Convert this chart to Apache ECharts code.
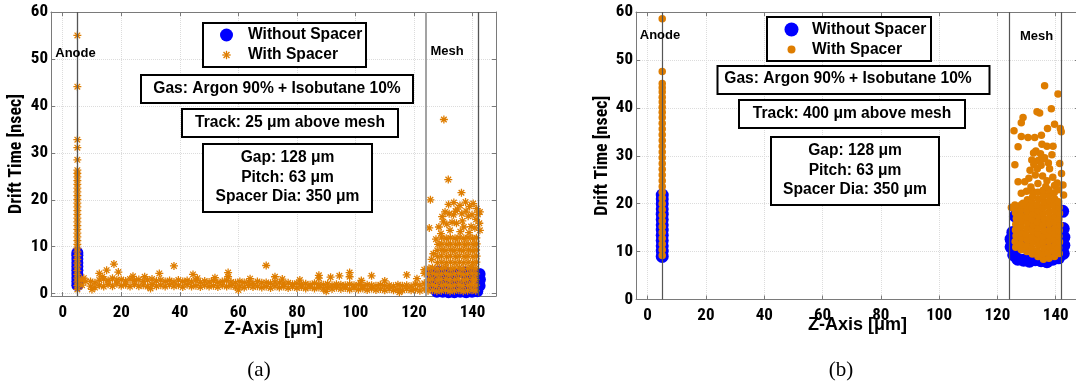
<!DOCTYPE html>
<html><head><meta charset="utf-8">
<script src="https://cdn.jsdelivr.net/npm/echarts@6/dist/echarts.min.js"></script>
<style>html,body{margin:0;padding:0;background:#fff}#c{width:1076px;height:383px}</style>
</head><body><div id="c"></div>
<script>
// ---------- data ----------
const seriesNames = ['Without Spacer', 'With Spacer'];
const xTickLabels = [0, 20, 40, 60, 80, 100, 120, 140];
const yTickLabels = [0, 10, 20, 30, 40, 50, 60];
const electrodeX = [5, 124, 142];      // Anode, Mesh (two lines)
const gasText = 'Gas: Argon 90% + Isobutane 10%';
const trackTextA = 'Track: 25 \u03bcm above mesh';
const trackTextB = 'Track: 400 \u03bcm above mesh';
const paramLines = ['Gap: 128 \u03bcm', 'Pitch: 63 \u03bcm', 'Spacer Dia: 350 \u03bcm'];
const captions = ['(a)', '(b)'];

const aWithout = [
  [5,1.8],[5,2.6],[5,3.4],[5,4.2],[5,5.0],[5,5.8],[5,6.6],[5,7.4],[5,8.2],[5,8.7],
  [125.8,4.3],[126.2,3.0],[126.6,1.7],[127.8,0.4],[129.8,0.4],[131.8,0.3],[133.8,0.3],[135.8,0.4],
  [137.8,0.3],[139.8,0.4],[141.6,0.5],[142.4,1.7],[142.5,3.0],[142.4,4.2],[128.5,4.7],[131,4.4],
  [134,4.2],[137,4.5],[140,4.4],[130,2.5],[134,2.2],[138,2.6]
];
const aWith = [
  [5,0.9],[5,1.7],[5,2.5],[5,3.3],[5,4.1],[5,4.9],[5,5.7],[5,6.5],[5,7.3],[5,8.1],
  [5,8.9],[5,9.7],[5,10.5],[5,11.3],[5,12.1],[5,12.9],[5,13.7],[5,14.5],[5,15.3],
  [5,16.1],[5,16.9],[5,17.7],[5,18.5],[5,19.3],[5,20.1],[5,20.9],[5,21.7],[5,22.5],
  [5,23.3],[5,24.1],[5,24.9],[5,25.6],[5,26.3],[5,28.5],[5,31.1],[5,32.8],[5,44.1],
  [5,55.0],[6.3,2.9],[7.2,3.3],[7.9,2.6],[6.6,1.8],
  [9.5,1.6],[9.5,2.6],[11,1.3],[11,2.3],[12.5,1.8],[12.5,2.9],[14,1.5],[14,3.1],[15.5,2.0],[15.5,2.8],
  [17,1.6],[17,3.3],[18.5,2.1],[18.5,2.9],[20,1.7],[20,3.0],[21.5,1.9],[21.5,2.7],[23,1.5],[23,3.1],
  [24.5,2.0],[24.5,2.8],[26,1.6],[26,3.0],[27.5,1.8],[27.5,2.6],[29,1.5],[29,2.9],[30.5,2.0],[30.5,3.1],
  [32,1.6],[32,2.7],[33.5,1.8],[33.5,2.9],[35,1.5],[35,2.6],[36.5,1.9],[36.5,2.8],[38,1.6],[38,2.5],
  [39.5,1.8],[39.5,2.9],[41,1.4],[41,2.6],[42.5,1.9],[42.5,2.8],[44,1.5],[44,2.5],[45.5,1.7],[45.5,2.9],
  [47,1.4],[47,2.4],[48.5,1.8],[48.5,2.7],[50,1.5],[50,2.5],[51.5,1.7],[51.5,2.8],[53,1.4],[53,2.4],
  [54.5,1.8],[54.5,2.6],[56,1.5],[56,2.8],[57.5,1.7],[57.5,2.5],[59,1.4],[59,2.3],[60.5,1.6],[60.5,2.6],
  [62,1.3],[62,2.4],[63.5,1.7],[63.5,2.5],[65,1.4],[65,2.2],[66.5,1.6],[66.5,2.6],[68,1.3],[68,2.3],
  [69.5,1.5],[69.5,2.4],[71,1.2],[71,2.2],[72.5,1.6],[72.5,2.5],[74,1.3],[74,2.3],[75.5,1.5],[75.5,2.1],
  [77,1.2],[77,2.3],[78.5,1.5],[78.5,2.0],[80,1.2],[80,2.2],[81.5,1.4],[81.5,2.0],[83,1.1],[83,2.1],
  [84.5,1.4],[84.5,1.9],[86,1.1],[86,2.2],[87.5,1.3],[87.5,2.0],[89,1.0],[89,1.9],[90.5,1.3],[90.5,2.1],
  [92,1.0],[92,1.8],[93.5,1.3],[93.5,2.0],[95,1.0],[95,1.9],[96.5,1.2],[96.5,1.8],[98,0.9],[98,2.0],
  [99.5,1.2],[99.5,1.8],[101,0.9],[101,1.9],[102.5,1.1],[102.5,1.7],[104,0.8],[104,1.9],[105.5,1.1],[105.5,1.8],
  [107,0.8],[107,1.7],[108.5,1.0],[108.5,1.9],[110,0.7],[110,1.7],[111.5,1.0],[111.5,1.8],[113,0.7],[113,1.6],
  [114.5,0.9],[114.5,1.9],[116,0.7],[116,1.7],[117.5,1.0],[117.5,1.8],[119,0.7],[119,1.6],[120.5,0.9],[120.5,2.0],
  [122,0.6],[122,1.8],[123.5,1.0],[123.5,2.2],
  [12.5,4.3],[15,5.0],[17.5,6.3],[19,4.6],[33,4.3],[38,5.9],[44.5,4.1],[56.5,4.5],[56.5,3.6],[69.5,6.0],
  [72.5,3.6],[87.5,3.9],[87.5,3.3],[91.5,3.5],[94.5,3.8],[98,4.5],[98,3.6],[105.5,3.8],[117.5,4.0],
  [123.5,5.1],[123.5,4.3],[13.5,3.6],[24,3.7],[28,3.6],[46,3.3],[52,3.4],[64,3.2],[75,3.1],[81,2.9],
  [102,2.8],[110,2.7],[121,3.2],[10,0.9],[30,1.1],[60,0.8],[90,0.5],[115,0.3],
  [124.8,0.6],[124.8,1.8],[125.0,3.0],[124.9,4.2],[125.1,5.4],
  [126.3,0.7],[126.4,1.9],[126.2,3.1],[126.4,4.3],[126.3,5.5],
  [127.8,0.5],[127.7,1.7],[127.9,2.9],[127.8,4.1],[127.9,5.3],
  [129.3,0.6],[129.4,1.8],[129.2,3.0],[129.3,4.2],[129.4,5.4],
  [130.8,0.7],[130.7,1.9],[130.9,3.1],[130.8,4.3],[130.7,5.5],
  [132.3,0.5],[132.4,1.7],[132.2,2.9],[132.3,4.1],[132.4,5.3],
  [133.8,0.6],[133.7,1.8],[133.9,3.0],[133.8,4.2],[133.7,5.4],
  [135.3,0.7],[135.4,1.9],[135.2,3.1],[135.3,4.3],[135.4,5.5],
  [136.8,0.5],[136.7,1.7],[136.9,2.9],[136.8,4.1],[136.7,5.3],
  [138.3,0.6],[138.4,1.8],[138.2,3.0],[138.3,4.2],[138.4,5.4],
  [139.8,0.7],[139.7,1.9],[139.9,3.1],[139.8,4.3],[139.7,5.5],
  [141.1,0.6],[141.2,1.8],[141.0,3.0],[141.2,4.2],[141.1,5.4],
  [128,6.6],[128.1,7.9],[127.9,9.2],[128.2,10.5],[127.5,11.6],
  [129.5,6.7],[129.4,8.0],[129.6,9.3],[129.5,10.6],[129.4,11.9],
  [131,6.6],[131.1,7.9],[130.9,9.2],[131.2,10.5],[131,11.8],
  [132.5,6.7],[132.4,8.0],[132.6,9.3],[132.5,10.6],[132.4,11.9],
  [134,6.6],[134.1,7.9],[133.9,9.2],[134.2,10.5],[134,11.8],
  [135.5,6.7],[135.4,8.0],[135.6,9.3],[135.5,10.6],[135.4,11.9],
  [137,6.6],[137.1,7.9],[136.9,9.2],[137.2,10.5],[137,11.8],
  [138.5,6.7],[138.4,8.0],[138.6,9.3],[138.5,10.6],[138.4,11.9],
  [140,6.6],[140.1,7.9],[139.9,9.2],[140.2,10.5],[140,11.8],
  [141.3,6.7],[141.4,8.0],[141.2,9.3],[141.4,10.6],[141.3,11.9],
  [126.6,8.5],[126,7.3],
  [130.2,37.1],[131.7,24.3],[136.2,21.5],[125.6,20.0],[125.2,14.0],[133.6,19.4],[135.7,18.8],[140.2,19.2],
  [141.4,18.1],[142.5,17.4],[130.6,17.4],[129.6,16.4],[130,15.3],[136.3,17.0],[132.3,13.5],[142.5,13.5],
  [138.5,16.5],[139.5,14.3],[134.5,15.0],[137,14.2],[131.2,14.8],[133.5,16.8],[141.2,15.8],[139.0,18.6],
  [134.8,18.0],[131.8,19.0],[137.6,19.5],[141.8,16.9],[129.2,12.8],[135.8,13.2],[138.8,13.0],[140.8,14.0],
  [133.0,15.2],[136.5,15.5],[139.8,16.8],[142.3,15.0],[128.5,14.2],[134.2,17.6],[137.8,17.6],[132.0,17.0]
];
const bWithout = [
  [5,9.0],[5,10.1],[5,11.2],[5,12.3],[5,13.4],[5,14.5],[5,15.6],[5,16.7],[5,17.8],[5,18.9],[5,20.0],[5,21.0],[5,21.8],
  [124.7,11.0],[124.7,12.6],[125.3,14.0],[125.6,9.3],[127,8.4],[129,8.2],[131,8.0],[133,8.3],[135,8.1],
  [137,7.9],[139,8.4],[141,8.7],[142.6,9.6],[142.8,11.3],[142.8,13.0],[142.6,14.8],[142.4,18.4],
  [126.2,17.4],[127.3,18.4],[126,12],[130,12],[134,13],[138,12],[132,16],[136,16],[140,16]
];
const bWith = [
  [5,9.2],[5,10.4],[5,11.6],[5,12.8],[5,14.0],[5,15.2],[5,16.4],[5,17.6],[5,18.8],[5,20.0],[5,21.2],
  [5,22.4],[5,23.6],[5,24.8],[5,26.0],[5,27.2],[5,28.4],[5,29.6],[5,30.8],[5,32.0],[5,33.2],[5,34.4],
  [5,35.6],[5,36.8],[5,38.0],[5,39.1],[5,40.1],[5,41.2],[5,42.2],[5,43.3],[5,44.2],[5,45.1],[5,47.6],[5,58.6],
  [126.3,10.9],[126.1,12.1],[126.4,13.3],[126.2,14.5],[126.3,15.7],[126.5,16.9],[126.2,18.1],[126.4,19.0],
  [128.2,10.4],[128.0,11.6],[128.3,12.8],[128.1,14.0],[128.2,15.2],[128.4,16.4],[128.1,17.6],[128.3,18.8],[128.2,19.8],
  [130.1,10.0],[130.0,11.2],[130.2,12.4],[129.9,13.6],[130.1,14.8],[130.3,16.0],[130.0,17.2],[130.2,18.4],[130.1,19.6],[130.3,20.8],
  [132.0,9.5],[131.8,10.7],[132.1,11.9],[131.9,13.1],[132.0,14.3],[132.2,15.5],[131.9,16.7],[132.1,17.9],[132.0,19.1],[131.8,20.3],[132.1,21.5],[132.0,22.6],
  [133.9,9.0],[133.7,10.2],[134.0,11.4],[133.8,12.6],[133.9,13.8],[134.1,15.0],[133.8,16.2],[134.0,17.4],[133.9,18.6],[133.7,19.8],[134.0,21.0],[133.9,22.4],
  [135.8,8.4],[135.6,9.6],[135.9,10.8],[135.7,12.0],[135.8,13.2],[136.0,14.4],[135.7,15.6],[135.9,16.8],[135.8,18.0],[135.6,19.2],[135.9,20.4],[135.8,21.6],[135.7,22.8],
  [137.7,8.6],[137.5,9.8],[137.8,11.0],[137.6,12.2],[137.7,13.4],[137.9,14.6],[137.6,15.8],[137.8,17.0],[137.7,18.2],[137.5,19.4],[137.8,20.6],[137.7,21.8],[137.6,22.9],
  [139.6,9.0],[139.4,10.2],[139.7,11.4],[139.5,12.6],[139.6,13.8],[139.8,15.0],[139.5,16.2],[139.7,17.4],[139.6,18.6],[139.4,19.8],[139.7,21.0],[139.5,22.3],
  [141.2,9.6],[141.0,10.8],[141.3,12.0],[141.1,13.2],[141.2,14.4],[141.4,15.6],[141.1,16.8],[141.3,18.0],[141.2,19.2],[141.0,20.4],
  [136.2,44.6],[140.8,42.9],[133.6,39.2],[134.5,38.9],[138.5,39.8],[128.8,38.0],[128.2,36.9],[125.7,35.2],
  [139.6,36.6],[141.6,35.7],[141.9,35.0],[137.2,35.7],[135.1,34.3],[128.2,34.0],[130.5,33.8],[132.8,33.8],
  [127.1,31.9],[139.1,32.0],[133.2,31.0],[135.3,32.4],[137.0,32.0],[132.4,30.6],[134.8,30.4],[138.7,30.2],
  [136.2,29.6],[141.4,28.4],[126.0,28.1],[131.8,29.1],[134.0,29.0],[135.6,29.3],[131.2,27.0],[133.7,27.3],
  [137.9,27.3],[142.0,26.3],[129.4,24.6],[127.1,24.6],[130.8,25.3],[133.0,26.0],[135.5,25.8],[137.0,24.8],
  [139.0,25.5],[140.5,24.3],[128.2,22.2],[142.5,23.9],[142.7,21.8],[128.8,20.1],[126.0,19.7],[124.8,19.2],
  [131.5,23.5],[133.9,24.2],[136.6,23.6],[139.6,23.8],[135.0,28.0],[137.5,28.5],[132.5,28.2],[130.0,22.6],[141.0,22.9]
];

// ---------- styling ----------
const ORANGE = '#DE7D00', BLUE = '#0000FF';
const AX = '#7a7a7a';
const COND = '"Roboto Condensed", "Liberation Sans", Arial';
const tickFont = {color:'#000', fontFamily:COND, fontWeight:'bold', fontSize:17};
const ASTER = 'path://M-1.6,-10L1.6,-10L1.6,10L-1.6,10Z M-10,-1.6L10,-1.6L10,1.6L-10,1.6Z M-5.87,-8.13L8.13,5.87L5.87,8.13L-8.13,-5.87Z M5.87,-8.13L8.13,-5.87L-5.87,8.13L-8.13,5.87Z';

const isTick = (arr) => (v) => arr.some(t => Math.abs(t - v) < 1e-6) ? String(Math.round(v)) : '';
const grid = [
  {left:51, top:12, width:445, height:284, show:false, outerBoundsMode:'none'},
  {left:636, top:12, width:443, height:287.5, show:false, outerBoundsMode:'none'}
];
function xBottom(g, nameGap){
  return {type:'value', gridIndex:g, min:-4, max:148, splitNumber:8,
    axisLine:{show:true, onZero:false, lineStyle:{color:AX, width:1}},
    axisTick:{show:true, inside:true, length:4, lineStyle:{color:AX}},
    axisLabel:Object.assign({margin:8, formatter:isTick(xTickLabels)}, tickFont),
    splitLine:{show:true, lineStyle:{color:'#dcdcdc', type:'dotted', width:1}},
    name:'Z-Axis [\u03bcm]', nameLocation:'middle', nameGap:nameGap, nameMoveOverlap:false,
    nameTextStyle:{color:'#000', fontFamily:'"Liberation Sans", Arial', fontWeight:'bold', fontSize:18}};
}
function xTop(g){
  return {type:'value', gridIndex:g, position:'top', min:-4, max:148, splitNumber:8,
    axisLine:{show:true, onZero:false, lineStyle:{color:AX, width:1}},
    axisTick:{show:true, inside:true, length:4, lineStyle:{color:AX}},
    axisLabel:{show:false}, splitLine:{show:false}};
}
function yLeft(g, min, nameGap){
  return {type:'value', gridIndex:g, min:min, max:60, splitNumber:6,
    axisLine:{show:true, onZero:false, lineStyle:{color:AX, width:1}},
    axisTick:{show:true, inside:true, length:4, lineStyle:{color:AX}},
    axisLabel:Object.assign({margin:3, formatter:isTick(yTickLabels)}, tickFont),
    splitLine:{show:true, lineStyle:{color:'#dcdcdc', type:'dotted', width:1}},
    name:'Drift Time [nsec]', nameLocation:'middle', nameGap:nameGap, nameMoveOverlap:false,
    nameTextStyle:{color:'#000', fontFamily:COND, fontWeight:'bold', fontSize:18}};
}
function yRight(g, min){
  return {type:'value', gridIndex:g, position:'right', min:min, max:60, splitNumber:6,
    axisLine:{show:true, onZero:false, lineStyle:{color:AX, width:1}},
    axisTick:{show:true, inside:true, length:4, lineStyle:{color:AX}},
    axisLabel:{show:false}, splitLine:{show:false}};
}
function lines(styles){
  return {silent:true, symbol:['none','none'], label:{show:false}, animation:false,
    data: electrodeX.map((x, i) => ({xAxis:x, lineStyle:styles[i]}))};
}

const FONT = '"Liberation Sans", Arial';
function box(x, y, w, h){
  return {type:'rect', shape:{x:x, y:y, width:w, height:h}, style:{fill:'#fff', stroke:'#000', lineWidth:2}, z:20};
}
function txt(x, y, t, size, align){
  return {type:'text', x:x, y:y, z:21, style:{text:t, fill:'#000', font:'bold ' + size + 'px ' + FONT,
    align:align||'center', verticalAlign:'middle', textAlign:align||'center', textVerticalAlign:'middle'}};
}
function asteriskIcon(cx, cy, r){
  const d = r * 0.7071;
  const st = {stroke:ORANGE, lineWidth:1.3};
  return [
    {type:'line', z:21, shape:{x1:cx - r, y1:cy, x2:cx + r, y2:cy}, style:st},
    {type:'line', z:21, shape:{x1:cx, y1:cy - r, x2:cx, y2:cy + r}, style:st},
    {type:'line', z:21, shape:{x1:cx - d, y1:cy - d, x2:cx + d, y2:cy + d}, style:st},
    {type:'line', z:21, shape:{x1:cx - d, y1:cy + d, x2:cx + d, y2:cy - d}, style:st}
  ];
}
const TS = 15.6;
const graphics = [
  box(203,23,163,44),
  {type:'circle', shape:{cx:226.5, cy:35, r:6.5}, style:{fill:BLUE}, z:21},
  ...asteriskIcon(226.5, 55, 4.2),
  txt(248,35,seriesNames[0],TS,'left'), txt(248,55,seriesNames[1],TS,'left'),
  box(141,75,272,28), txt(277,89,gasText,TS),
  box(182,109,216,28), txt(290,123,trackTextA,TS),
  box(203,144,169,68), txt(287.5,158,paramLines[0],TS), txt(287.5,177.5,paramLines[1],TS), txt(287.5,197,paramLines[2],TS),
  txt(75.5,53,'Anode',13), txt(447,51,'Mesh',13),
  {type:'text', x:259, y:370, z:21, style:{text:captions[0], fill:'#000', font:'21px "Liberation Serif", serif', align:'center', verticalAlign:'middle', textAlign:'center', textVerticalAlign:'middle'}},
  box(767,17,164,44),
  {type:'circle', shape:{cx:791.5, cy:29.5, r:7}, style:{fill:BLUE}, z:21},
  {type:'circle', shape:{cx:791.5, cy:49.5, r:4}, style:{fill:ORANGE}, z:21},
  txt(812,29.5,seriesNames[0],TS,'left'), txt(812,49.5,seriesNames[1],TS,'left'),
  box(717.5,66,272,28), txt(848,79,gasText,TS),
  box(739,100,226,28), txt(852,114,trackTextB,TS),
  box(771,137,168,68), txt(855,151,paramLines[0],TS), txt(855,170.5,paramLines[1],TS), txt(855,190,paramLines[2],TS),
  txt(660,35,'Anode',13), txt(1036.5,36,'Mesh',13),
  {type:'text', x:841, y:370, z:21, style:{text:captions[1], fill:'#000', font:'21px "Liberation Serif", serif', align:'center', verticalAlign:'middle', textAlign:'center', textVerticalAlign:'middle'}}
];

const chart = echarts.init(document.getElementById('c'), null, {renderer:'canvas'});
chart.setOption({
  animation:false,
  backgroundColor:'#fff',
  grid: grid,
  xAxis:[xBottom(0,24), xTop(0), xBottom(1,17), xTop(1)],
  yAxis:[yLeft(0,-0.5,26), yRight(0,-0.5), yLeft(1,0,25), yRight(1,0)],
  series:[
    {name:seriesNames[0], type:'scatter', xAxisIndex:0, yAxisIndex:0, data:aWithout, symbol:'circle', symbolSize:12,
      itemStyle:{color:BLUE, opacity:1}, z:2},
    {name:seriesNames[1], type:'scatter', xAxisIndex:0, yAxisIndex:0, data:aWith, symbol:ASTER, symbolSize:8,
      itemStyle:{color:ORANGE, opacity:1}, z:3,
      markLine:lines([{color:'#555', width:1.3, type:'solid'}, {color:'#999', width:2, type:'solid', opacity:0.9}, {color:'#555', width:1.3, type:'solid'}])},
    {name:seriesNames[0], type:'scatter', xAxisIndex:2, yAxisIndex:2, data:bWithout, symbol:'circle', symbolSize:13,
      itemStyle:{color:BLUE, opacity:1}, z:2},
    {name:seriesNames[1], type:'scatter', xAxisIndex:2, yAxisIndex:2, data:bWith, symbol:'circle', symbolSize:7.5,
      itemStyle:{color:ORANGE, opacity:1}, z:3,
      markLine:lines([{color:'#555', width:1.2, type:'solid'}, {color:'#555', width:1.2, type:'solid'}, {color:'#555', width:1.2, type:'solid'}])}
  ],
  graphic: graphics
});
</script></body></html>
